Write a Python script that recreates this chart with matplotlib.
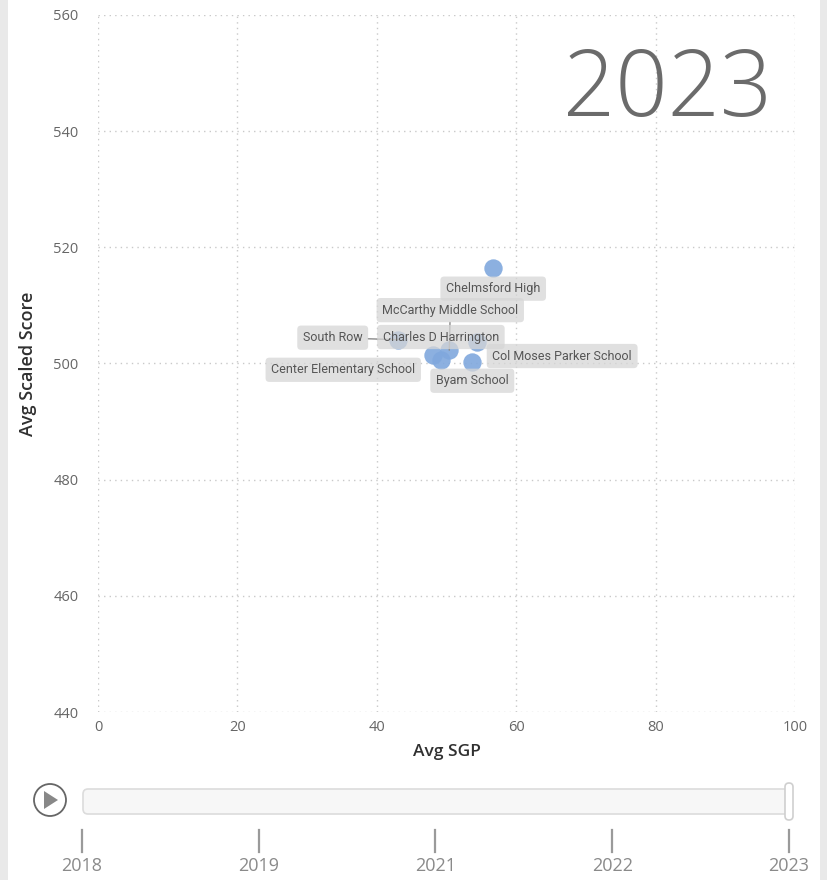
import matplotlib
matplotlib.use("Agg")
import matplotlib.pyplot as plt
from matplotlib.patches import FancyBboxPatch, Circle, Rectangle, Polygon
import numpy as np

# data read from the 2023 frame
schools = ["Chelmsford High", "McCarthy Middle School", "South Row",
           "Charles D Harrington", "Col Moses Parker School",
           "Center Elementary School", "Byam School"]
avg_sgp = [56.7, 50.4, 43.0, 49.2, 54.4, 48.1, 53.7]
avg_scaled = [516.5, 502.3, 504.1, 500.6, 503.7, 501.5, 500.3]
years = ["2018", "2019", "2021", "2022", "2023"]
current_year = "2023"

# label offsets in pixels (layout only)
label_offsets = [(0, -21), (1, 40), (-65, 2), (0, 23), (85, -14), (-90, -15), (0, -19)]
leader = [False, True, True, False, False, False, False]

W, H = 828, 880
fig = plt.figure(figsize=(W / 100, H / 100), dpi=100)

# decoration layer in pixel coordinates
deco = fig.add_axes([0, 0, 1, 1], zorder=0)
deco.set_xlim(0, W)
deco.set_ylim(H, 0)
deco.axis("off")
deco.add_patch(Rectangle((0, 0), 8, H, color="#e9e9e9", lw=0))
deco.add_patch(Rectangle((820, 0), 8, H, color="#e9e9e9", lw=0))

# play button
deco.add_patch(Circle((50, 800), 16, fill=False, ec="#666666", lw=1.3))
deco.add_patch(Polygon([[44, 791], [44, 809], [58, 800]], closed=True, color="#888888", lw=0))
# slider track
deco.add_patch(FancyBboxPatch((83, 789), 706, 25, boxstyle="round,pad=0,rounding_size=5",
                              fc="#f7f7f7", ec="#dcdcdc", lw=1.2))
deco.add_patch(FancyBboxPatch((785, 783), 8, 37, boxstyle="round,pad=0,rounding_size=4",
                              fc="white", ec="#cfcfcf", lw=1.2))
tick_x = np.linspace(82, 789, len(years))
for xx, yr in zip(tick_x, years):
    deco.plot([xx, xx], [830, 852], color="#9a9a9a", lw=1.6)
    deco.text(xx, 866, yr, ha="center", va="center", fontsize=13,
              family="Open Sans", color="#8a8a8a")

# main scatter axes
ax = fig.add_axes([98 / W, (H - 712) / H, 697 / W, 697 / H], zorder=1)
ax.set_facecolor("none")
ax.set_xlim(0, 100)
ax.set_ylim(440, 560)
ax.set_xticks(range(0, 101, 20))
ax.set_yticks(range(440, 561, 20))
for s in ax.spines.values():
    s.set_visible(False)
ax.grid(True, color="#c9c9c9", lw=1, linestyle=(0, (1, 3)))
ax.tick_params(length=0, labelsize=10.5, labelcolor="#666666")
ax.tick_params(axis="y", pad=14)
ax.tick_params(axis="x", pad=6)
for lab in ax.get_xticklabels() + ax.get_yticklabels():
    lab.set_family("Open Sans")
ax.set_xlabel("Avg SGP", fontsize=12.5, family="Open Sans", fontweight="semibold",
              color="#303030", labelpad=6)
ax.set_ylabel("Avg Scaled Score", fontsize=13, family="Open Sans", fontweight="semibold",
              color="#303030", labelpad=12)

ax.scatter(avg_sgp, avg_scaled, s=175, color="#80a8dd", alpha=0.9, lw=0, zorder=3)

for name, x, y, off, ld in zip(schools, avg_sgp, avg_scaled, label_offsets, leader):
    ax.annotate(name, (x, y), xytext=off, textcoords="offset pixels",
                ha="center", va="center", fontsize=9, family="Roboto", color="#555555",
                bbox=dict(boxstyle="round,pad=0.45,rounding_size=0.3", fc="#d6d6d6",
                          ec="none", alpha=0.75),
                arrowprops=dict(arrowstyle="-", color="#8a8a8a", lw=1,
                                shrinkA=0, shrinkB=0) if ld else None,
                zorder=4)

ax.text(0.817, 0.89, current_year, transform=ax.transAxes, ha="center", va="center",
        fontsize=66, family="Open Sans", fontweight="light", color="#6b6b6b")

fig.savefig("out.png", dpi=100)
